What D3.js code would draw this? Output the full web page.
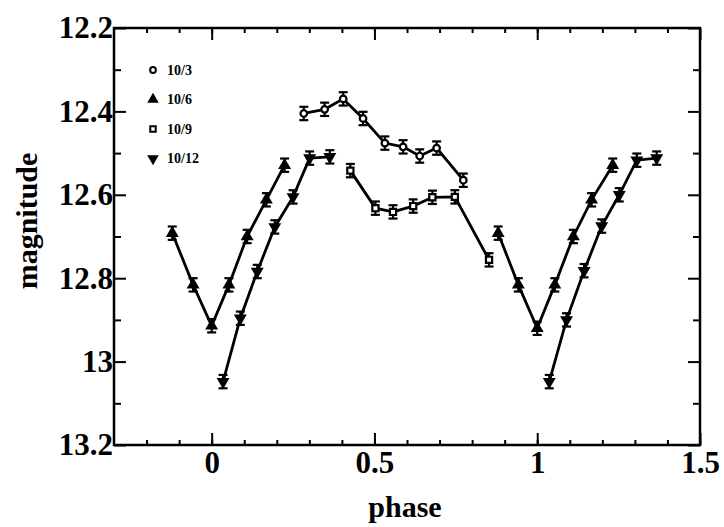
<!DOCTYPE html>
<html>
<head>
<meta charset="utf-8">
<script src="https://cdn.jsdelivr.net/npm/d3@7"></script>
<style>
  body { margin: 0; background: #fff; }
  svg { display: block; }
  text { font-family: "Liberation Serif", "Times New Roman", serif; font-weight: bold; fill: #000; }
</style>
</head>
<body>
<svg id="chart"></svg>
<script>
(function() {
  'use strict';

// data
var seriesNames = ['10/3', '10/6', '10/9', '10/12'];

var phase3 = [0.283, 0.347, 0.404, 0.465, 0.532, 0.588, 0.639, 0.691, 0.773];
var mag3   = [12.405, 12.395, 12.370, 12.417, 12.476, 12.485, 12.507, 12.488, 12.565];

var phase6a = [-0.121, -0.057, 0.000, 0.053, 0.109, 0.168, 0.224];
var mag6a   = [12.692, 12.816, 12.914, 12.816, 12.700, 12.612, 12.529];
var phase6b = [0.880, 0.942, 1.000, 1.054, 1.111, 1.167, 1.232];
var mag6b   = [12.692, 12.816, 12.920, 12.816, 12.700, 12.612, 12.529];

var phase9 = [0.426, 0.503, 0.557, 0.619, 0.678, 0.747, 0.852];
var mag9   = [12.542, 12.632, 12.641, 12.627, 12.606, 12.605, 12.756];

var phase12a = [0.035, 0.088, 0.140, 0.194, 0.250, 0.301, 0.363];
var mag12a   = [13.048, 12.896, 12.784, 12.677, 12.605, 12.512, 12.509];
var phase12b = [1.037, 1.090, 1.144, 1.198, 1.252, 1.306, 1.367];
var mag12b   = [13.048, 12.900, 12.782, 12.675, 12.600, 12.517, 12.512];

var magErr = 0.016;

var xTicks = [0, 0.5, 1, 1.5];
var xTickLabels = ['0', '0.5', '1', '1.5'];
var yTicks = [12.2, 12.4, 12.6, 12.8, 13, 13.2];
var yTickLabels = ['12.2', '12.4', '12.6', '12.8', '13', '13.2'];

var width = 724,
    height = 527;
var left = 114, right = 700, top = 28, bottom = 445;

var svg = d3.select('#chart')
    .attr('width', width)
    .attr('height', height);

var x = d3.scaleLinear().domain([-0.3, 1.5]).range([left, right]);
var y = d3.scaleLinear().domain([12.2, 13.2]).range([top, bottom]);

var xMinor = d3.range(-2, 15).map(function(i) { return i / 10; });
var yMinor = d3.range(123, 132, 2).map(function(i) { return i / 10; });

function styleAxis(g) {
  g.select('.domain').remove();
  g.selectAll('line').attr('stroke', '#000').attr('stroke-width', 2);
  g.selectAll('text').style('font-size', '31px');
}

// minor ticks, all four sides
svg.append('g').attr('transform', 'translate(0,' + bottom + ')')
    .call(d3.axisBottom(x).tickValues(xMinor).tickSize(-5).tickFormat(''))
    .call(styleAxis);
svg.append('g').attr('transform', 'translate(0,' + top + ')')
    .call(d3.axisTop(x).tickValues(xMinor).tickSize(-5).tickFormat(''))
    .call(styleAxis);
svg.append('g').attr('transform', 'translate(' + left + ',0)')
    .call(d3.axisLeft(y).tickValues(yMinor).tickSize(-7).tickFormat(''))
    .call(styleAxis);
svg.append('g').attr('transform', 'translate(' + right + ',0)')
    .call(d3.axisRight(y).tickValues(yMinor).tickSize(-7).tickFormat(''))
    .call(styleAxis);

// major ticks with labels
svg.append('g').attr('transform', 'translate(0,' + bottom + ')')
    .call(d3.axisBottom(x).tickValues(xTicks).tickSize(-12).tickPadding(6)
      .tickFormat(function(d, i) { return xTickLabels[i]; }))
    .call(styleAxis);
svg.append('g').attr('transform', 'translate(0,' + top + ')')
    .call(d3.axisTop(x).tickValues(xTicks).tickSize(-12).tickFormat(''))
    .call(styleAxis);
svg.append('g').attr('transform', 'translate(' + left + ',0)')
    .call(d3.axisLeft(y).tickValues(yTicks).tickSize(-12).tickPadding(1)
      .tickFormat(function(d, i) { return yTickLabels[i]; }))
    .call(styleAxis);
svg.append('g').attr('transform', 'translate(' + right + ',0)')
    .call(d3.axisRight(y).tickValues(yTicks).tickSize(-12).tickFormat(''))
    .call(styleAxis);

// frame
svg.append('rect')
    .attr('x', left).attr('y', top)
    .attr('width', right - left).attr('height', bottom - top)
    .attr('fill', 'none').attr('stroke', '#000').attr('stroke-width', 2.5);

// axis titles
svg.append('text')
    .attr('x', 405).attr('y', 517)
    .attr('text-anchor', 'middle')
    .style('font-size', '30px')
    .text('phase');
svg.append('text')
    .attr('transform', 'translate(37,221) rotate(-90)')
    .attr('text-anchor', 'middle')
    .style('font-size', '30px')
    .text('magnitude');

var symbols = {
  '10/3':  { type: d3.symbolCircle,   size: 34, fill: '#fff', rot: 0 },
  '10/6':  { type: d3.symbolTriangle, size: 36, fill: '#000', rot: 0 },
  '10/9':  { type: d3.symbolSquare,   size: 38, fill: '#fff', rot: 0 },
  '10/12': { type: d3.symbolTriangle, size: 36, fill: '#000', rot: 180 }
};

function zip(ph, mg) {
  return ph.map(function(p, i) { return { phase: p, mag: mg[i] }; });
}

var segments = [
  { name: '10/3',  pts: zip(phase3, mag3) },
  { name: '10/6',  pts: zip(phase6a, mag6a) },
  { name: '10/6',  pts: zip(phase6b, mag6b) },
  { name: '10/9',  pts: zip(phase9, mag9) },
  { name: '10/12', pts: zip(phase12a, mag12a) },
  { name: '10/12', pts: zip(phase12b, mag12b) }
];

var line = d3.line()
    .x(function(d) { return x(d.phase); })
    .y(function(d) { return y(d.mag); });

segments.forEach(function(seg) {
  var sym = symbols[seg.name];
  var g = svg.append('g');

  g.append('path')
    .datum(seg.pts)
    .attr('d', line)
    .attr('fill', 'none')
    .attr('stroke', '#000')
    .attr('stroke-width', 2.8);

  var pt = g.selectAll('g.pt')
      .data(seg.pts)
    .enter().append('g')
      .attr('class', 'pt')
      .attr('transform', function(d) { return 'translate(' + x(d.phase) + ',' + y(d.mag) + ')'; });

  pt.append('line')
    .attr('y1', function(d) { return y(d.mag - magErr) - y(d.mag); })
    .attr('y2', function(d) { return y(d.mag + magErr) - y(d.mag); })
    .attr('stroke', '#000').attr('stroke-width', 2.2);
  pt.append('line')
    .attr('x1', -4.5).attr('x2', 4.5)
    .attr('y1', function(d) { return y(d.mag - magErr) - y(d.mag); })
    .attr('y2', function(d) { return y(d.mag - magErr) - y(d.mag); })
    .attr('stroke', '#000').attr('stroke-width', 2.2);
  pt.append('line')
    .attr('x1', -4.5).attr('x2', 4.5)
    .attr('y1', function(d) { return y(d.mag + magErr) - y(d.mag); })
    .attr('y2', function(d) { return y(d.mag + magErr) - y(d.mag); })
    .attr('stroke', '#000').attr('stroke-width', 2.2);

  pt.append('path')
    .attr('d', d3.symbol().type(sym.type).size(sym.size))
    .attr('transform', 'rotate(' + sym.rot + ')')
    .attr('fill', sym.fill)
    .attr('stroke', '#000')
    .attr('stroke-width', 2.2);
});

// legend
var legend = svg.selectAll('g.legend')
    .data(seriesNames)
  .enter().append('g')
    .attr('class', 'legend')
    .attr('transform', function(d, i) { return 'translate(153,' + (70 + i * 29.5) + ')'; });

legend.append('path')
    .attr('d', function(d) { return d3.symbol().type(symbols[d].type).size(symbols[d].size - 8)(); })
    .attr('transform', function(d) { return 'rotate(' + symbols[d].rot + ')'; })
    .attr('fill', function(d) { return symbols[d].fill; })
    .attr('stroke', '#000')
    .attr('stroke-width', 2);

legend.append('text')
    .attr('x', 14)
    .attr('dy', '0.35em')
    .style('font-size', '14px')
    .text(function(d) { return d; });
}());
</script>
</body>
</html>
